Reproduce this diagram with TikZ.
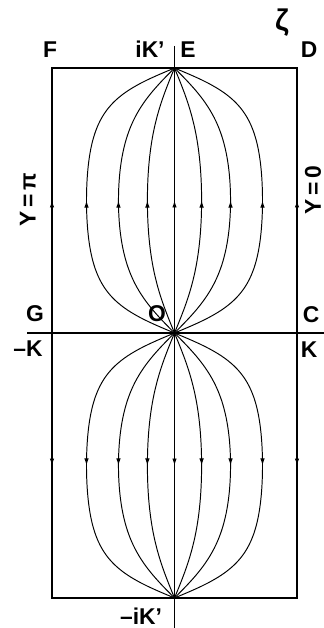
\documentclass[tikz,border=0pt]{standalone}
\usepackage{fontspec}
\setsansfont{Liberation Sans}
\usetikzlibrary{arrows.meta,decorations.markings}

% half height of the strip in flow units (K'/K scaled)
\newcommand{\halfht}{3.397}

\begin{document}
\begin{tikzpicture}[x=0.02cm, y=-0.02cm,
  frame/.style={line width=0.8pt},
  axis/.style={line width=0.6pt},
  flow/.style={line width=0.55pt, postaction={decorate},
    decoration={markings, mark=at position 0.5 with {\arrow{Latex[length=1.4mm,width=0.9mm]}}}},
  lbl/.style={font=\sffamily\bfseries\fontsize{13}{15}\selectfont, inner sep=0pt},
]
\useasboundingbox (0,0) rectangle (324,628);

% ===== corners and points =====
\coordinate (F) at (52,68);
\coordinate (E) at (174.5,68);
\coordinate (D) at (297,68);
\coordinate (G) at (52,333);
\coordinate (O) at (174.5,333);
\coordinate (C) at (297,333);
\coordinate (BL) at (52,598);
\coordinate (mE) at (174.5,598);
\coordinate (BR) at (297,598);
\coordinate (ytop) at (174.5,46);
\coordinate (ybot) at (174.5,628);
\coordinate (xl) at (27,333);
\coordinate (xr) at (324,333);

% ===== frame and axes =====
\draw[frame] (F) rectangle (BR);
\draw[axis] (ytop) -- (ybot);
\draw[axis] (xl) -- (xr);

% ===== streamlines =====
\draw[flow] (O) -- (E);
\draw[flow] (O) -- (mE);
\draw[flow] (C) -- (D);
\draw[flow] (C) -- (BR);
\draw[flow] (G) -- (F);
\draw[flow] (G) -- (BL);
\foreach \ang in {22.5,45,67.5,112.5,135,157.5} {
  \draw[flow] plot[domain=0:\halfht, samples=71, smooth, variable=\t]
    ({174.5+122.5/90*atan(tanh(\t)*tanh(\halfht-\t)/tan(\ang))}, {333-78*\t});
  \draw[flow] plot[domain=0:\halfht, samples=71, smooth, variable=\t]
    ({174.5+122.5/90*atan(tanh(\t)*tanh(\halfht-\t)/tan(\ang))}, {333+78*\t});
}

% ===== labels =====
\node[lbl] (lF) at (50,49.5) {F};
\node[lbl] (lik) at (150,49.5) {iK'};
\node[lbl] (lE) at (188,49.5) {E};
\node[lbl] (lD) at (309,49.5) {D};
\node[lbl, font=\sffamily\bfseries\fontsize{17}{19}\selectfont] (lzeta) at (282,23) {ζ};
\node[lbl] (lG) at (35,314) {G};
\node[lbl] (lO) at (157,314) {O};
\node[lbl] (lC) at (311,315) {C};
\node[lbl] (lmK) at (28,349) {--K};
\node[lbl] (lK) at (309,350) {K};
\node[lbl] (lmik) at (141,616) {--iK'};
\node[lbl, rotate=90] (lpi) at (28,200) {Y\,=\,π};
\node[lbl, rotate=90] (lzero) at (313,190) {Y\,=\,0};

\end{tikzpicture}
\end{document}
